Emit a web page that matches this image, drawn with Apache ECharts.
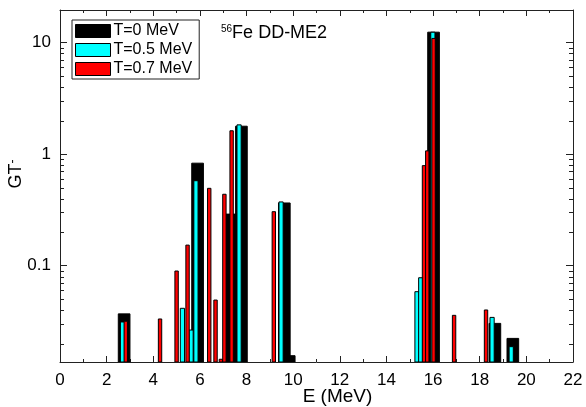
<!DOCTYPE html>
<html>
<head>
<meta charset="utf-8">
<script src="https://cdn.jsdelivr.net/npm/echarts@6/dist/echarts.min.js"></script>
<style>
  html, body { margin: 0; padding: 0; background: #fff; }
  #chart { width: 586px; height: 407px; }
</style>
</head>
<body>
<div id="chart"></div>
<script>
// Gamow-Teller (GT-) strength of 56Fe, DD-ME2, at three temperatures
const seriesNames = ['T=0 MeV', 'T=0.5 MeV', 'T=0.7 MeV'];

// T = 0 MeV: excitation energy (MeV) and strength
const energyT0   = [2.75, 5.90, 7.35, 7.78, 9.62, 9.83, 16.02, 18.65, 19.42];
const strengthT0 = [0.037, 0.83, 0.29, 1.78, 0.365, 0.0156, 12.4, 0.0304, 0.0223];

// T = 0.5 MeV
const energyT05   = [2.68, 5.25, 5.62, 5.83, 7.68, 9.48, 15.31, 15.47, 15.99, 18.53, 19.35];
const strengthT05 = [0.0313, 0.0415, 0.0265, 0.578, 1.83, 0.373, 0.0585, 0.078, 12.4, 0.0344, 0.0188];

// T = 0.7 MeV
const energyT07   = [2.82, 4.29, 5.00, 5.47, 6.40, 6.67, 6.90, 7.05, 7.36, 9.17, 15.61, 15.75, 16.02, 16.90, 18.27];
const strengthT07 = [0.0318, 0.0333, 0.0896, 0.153, 0.494, 0.0492, 0.0145, 0.437, 1.62, 0.305, 0.789, 1.07, 10.9, 0.0359, 0.0401];

// axis ranges
const energyMin = 0, energyMax = 22, energyStep = 2;
const gtMin = 0.0137, gtMax = 19.6;

const FONT = "'Liberation Sans', Arial, sans-serif";

function pairs(xs, ys) { return xs.map((x, i) => [x, ys[i]]); }

// draws each level as a column of fixed width (MeV) rising from the axis floor
function columnRenderer(width) {
  return function (params, api) {
    const e = api.value(0), v = api.value(1);
    const p0 = api.coord([e - width / 2, v]);
    const p1 = api.coord([e + width / 2, gtMin]);
    return {
      type: 'rect',
      shape: { x: p0[0], y: p0[1], width: p1[0] - p0[0], height: p1[1] - p0[1] },
      style: api.style({ stroke: '#000', lineWidth: 1 })
    };
  };
}

const axisLineStyle = { color: '#222', width: 1 };

const chart = echarts.init(document.getElementById('chart'), null, { renderer: 'canvas' });

const option = {
  animation: false,
  backgroundColor: '#fff',
  textStyle: { fontFamily: FONT },
  grid: { left: 60, right: 13, top: 10, bottom: 45, containLabel: false, outerBoundsMode: 'none' },
  title: {
    text: '{s|56}{m|Fe DD-ME2}',
    left: 221, top: 24,
    padding: 0,
    textStyle: {
      fontWeight: 'normal',
      rich: {
        s: { fontSize: 10, fontFamily: FONT, fontWeight: 'normal', color: '#000', verticalAlign: 'top', padding: [0, 0, 6, 0] },
        m: { fontSize: 18, fontFamily: FONT, fontWeight: 'normal', color: '#000' }
      }
    }
  },
  legend: {
    data: seriesNames,
    orient: 'vertical',
    left: 72, top: 20,
    padding: [3, 7, 2, 3],
    itemGap: 3,
    itemWidth: 35, itemHeight: 13,
    icon: 'rect',
    borderColor: '#222', borderWidth: 1,
    itemStyle: { borderColor: '#000', borderWidth: 1 },
    textStyle: { fontSize: 16, lineHeight: 14, fontFamily: FONT, color: '#000', padding: [0, 0, 0, -2] }
  },
  xAxis: [
    {
      type: 'value', min: energyMin, max: energyMax, interval: energyStep,
      name: 'E (MeV)', nameLocation: 'middle', nameGap: 25, nameMoveOverlap: false,
      nameTextStyle: { fontSize: 19, fontFamily: FONT, color: '#000', padding: [0, 0, 0, 42] },
      axisLine: { show: true, onZero: false, lineStyle: axisLineStyle },
      axisTick: { show: true, inside: true, length: 6, lineStyle: axisLineStyle },
      minorTick: { show: true, splitNumber: 2, length: 3, lineStyle: axisLineStyle },
      axisLabel: { fontSize: 17, fontFamily: FONT, color: '#000', margin: 10 },
      splitLine: { show: false }
    },
    {
      type: 'value', position: 'top', min: energyMin, max: energyMax, interval: energyStep,
      axisLine: { show: true, onZero: false, lineStyle: axisLineStyle },
      axisTick: { show: true, inside: true, length: 6, lineStyle: axisLineStyle },
      minorTick: { show: true, splitNumber: 2, length: 3, lineStyle: axisLineStyle },
      axisLabel: { show: false },
      splitLine: { show: false }
    }
  ],
  yAxis: [
    {
      type: 'log', logBase: 10, min: gtMin, max: gtMax,
      name: '{a|GT}{b|-}', nameLocation: 'middle', nameGap: 35, nameRotate: 90, nameMoveOverlap: false,
      nameTextStyle: {
        padding: [0, 0, 0, 24],
        rich: {
          a: { fontSize: 18, fontFamily: FONT, color: '#000' },
          b: { fontSize: 12, fontFamily: FONT, color: '#000', verticalAlign: 'top' }
        }
      },
      axisLine: { show: true, onZero: false, lineStyle: axisLineStyle },
      axisTick: { show: true, inside: true, length: 7, lineStyle: axisLineStyle },
      axisLabel: { fontSize: 17, fontFamily: FONT, color: '#000', margin: 9, showMinLabel: false, showMaxLabel: false },
      splitLine: { show: false }
    },
    {
      type: 'log', logBase: 10, min: gtMin, max: gtMax, position: 'right',
      axisLine: { show: true, onZero: false, lineStyle: axisLineStyle },
      axisTick: { show: true, inside: true, length: 7, lineStyle: axisLineStyle },
      axisLabel: { show: false },
      splitLine: { show: false }
    }
  ],
  series: [
    {
      name: seriesNames[0], type: 'custom', clip: true,
      itemStyle: { color: '#000000', borderColor: '#000', borderWidth: 1 },
      renderItem: columnRenderer(0.5),
      data: pairs(energyT0, strengthT0)
    },
    {
      name: seriesNames[1], type: 'custom', clip: true,
      itemStyle: { color: '#00ffff', borderColor: '#000', borderWidth: 1 },
      renderItem: columnRenderer(0.18),
      data: pairs(energyT05, strengthT05)
    },
    {
      name: seriesNames[2], type: 'custom', clip: true,
      itemStyle: { color: '#ff0000', borderColor: '#000', borderWidth: 1 },
      renderItem: columnRenderer(0.145),
      data: pairs(energyT07, strengthT07)
    }
  ]
};

chart.setOption(option);

// logarithmic minor ticks (2..9 per decade) on the left and right frame
const minorValues = [];
for (let k = -2; k <= 1; k++) {
  for (let m = 2; m <= 9; m++) {
    const v = m * Math.pow(10, k);
    if (v > gtMin && v < gtMax) minorValues.push(v);
  }
}
const xl = chart.convertToPixel({ xAxisIndex: 0 }, energyMin);
const xr = chart.convertToPixel({ xAxisIndex: 0 }, energyMax);
const tickEls = [];
minorValues.forEach(v => {
  const y = Math.round(chart.convertToPixel({ yAxisIndex: 0 }, v)) + 0.5;
  tickEls.push({ type: 'line', shape: { x1: xl, y1: y, x2: xl + 4, y2: y }, style: { stroke: '#222', lineWidth: 1 }, silent: true });
  tickEls.push({ type: 'line', shape: { x1: xr, y1: y, x2: xr - 4, y2: y }, style: { stroke: '#222', lineWidth: 1 }, silent: true });
});
chart.setOption({ graphic: tickEls });
</script>
</body>
</html>
